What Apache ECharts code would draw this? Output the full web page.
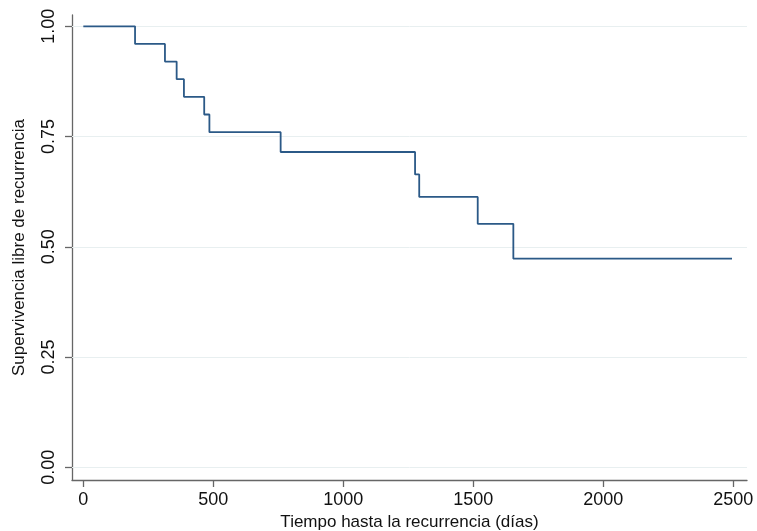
<!DOCTYPE html>
<html>
<head>
<meta charset="utf-8">
<script src="https://cdn.jsdelivr.net/npm/echarts@6/dist/echarts.min.js"></script>
<style>
  html, body { margin: 0; padding: 0; background: #fff; }
  #km { width: 757px; height: 531px; }
</style>
</head>
<body>
<div id="km"></div>
<script>
// tiempos de evento (días) y supervivencia estimada tras cada evento
const eventTimes = [0, 199, 314, 359, 387, 465, 485, 759, 1276, 1292, 1517, 1654, 2495];
const survival = [1.00, 0.96, 0.92, 0.88, 0.84, 0.80, 0.76, 0.715, 0.664, 0.613, 0.552, 0.473, 0.473];
const xTicks = [0, 500, 1000, 1500, 2000, 2500];
const yTicks = [0, 0.25, 0.5, 0.75, 1];

const chart = echarts.init(document.getElementById('km'));
const axisColor = '#666';
const font = 'Liberation Sans, Arial, Helvetica, sans-serif';

const option = {
    animation: false,
    grid: { left: 72, right: 10, top: 15, bottom: 51, outerBoundsMode: 'none', containLabel: false },
    xAxis: {
        type: 'value',
        min: -43.5,
        max: 2552.7,
        name: 'Tiempo hasta la recurrencia (días)',
        nameLocation: 'middle',
        nameGap: 32,
        nameTextStyle: { color: '#111', fontSize: 17, fontFamily: font },
        axisLine: { show: true, onZero: false, lineStyle: { color: axisColor, width: 1.3 } },
        axisTick: { show: true, length: 7, customValues: xTicks, lineStyle: { color: axisColor, width: 1.3 } },
        axisLabel: {
            customValues: xTicks,
            color: '#111', fontSize: 18, fontFamily: font, margin: 11,
            formatter: v => String(v)
        },
        splitLine: { show: false }
    },
    yAxis: {
        type: 'value',
        min: -0.0288,
        max: 1.0256,
        name: 'Supervivencia libre de recurrencia',
        nameLocation: 'middle',
        nameGap: 44,
        nameTextStyle: { color: '#111', fontSize: 17, fontFamily: font },
        axisLine: { show: true, onZero: false, lineStyle: { color: axisColor, width: 1.3 } },
        axisTick: { show: true, length: 7, customValues: yTicks, lineStyle: { color: axisColor, width: 1.3 } },
        axisLabel: {
            customValues: yTicks,
            rotate: 90,
            color: '#111', fontSize: 18, fontFamily: font, margin: 14,
            formatter: v => v.toFixed(2)
        },
        splitLine: { show: false }
    },
    series: [
        {
            // líneas de rejilla horizontales
            type: 'line',
            data: [],
            silent: true,
            z: 1,
            markLine: {
                silent: true,
                symbol: 'none',
                label: { show: false },
                lineStyle: { color: '#e8eff0', width: 1, type: 'solid' },
                data: yTicks.map(v => ({ yAxis: v }))
            }
        },
        {
            type: 'line',
            step: 'end',
            data: eventTimes.map((t, i) => [t, survival[i]]),
            showSymbol: false,
            lineStyle: { color: '#2b5987', width: 1.8 },
            z: 5
        }
    ]
};
chart.setOption(option);
</script>
</body>
</html>
